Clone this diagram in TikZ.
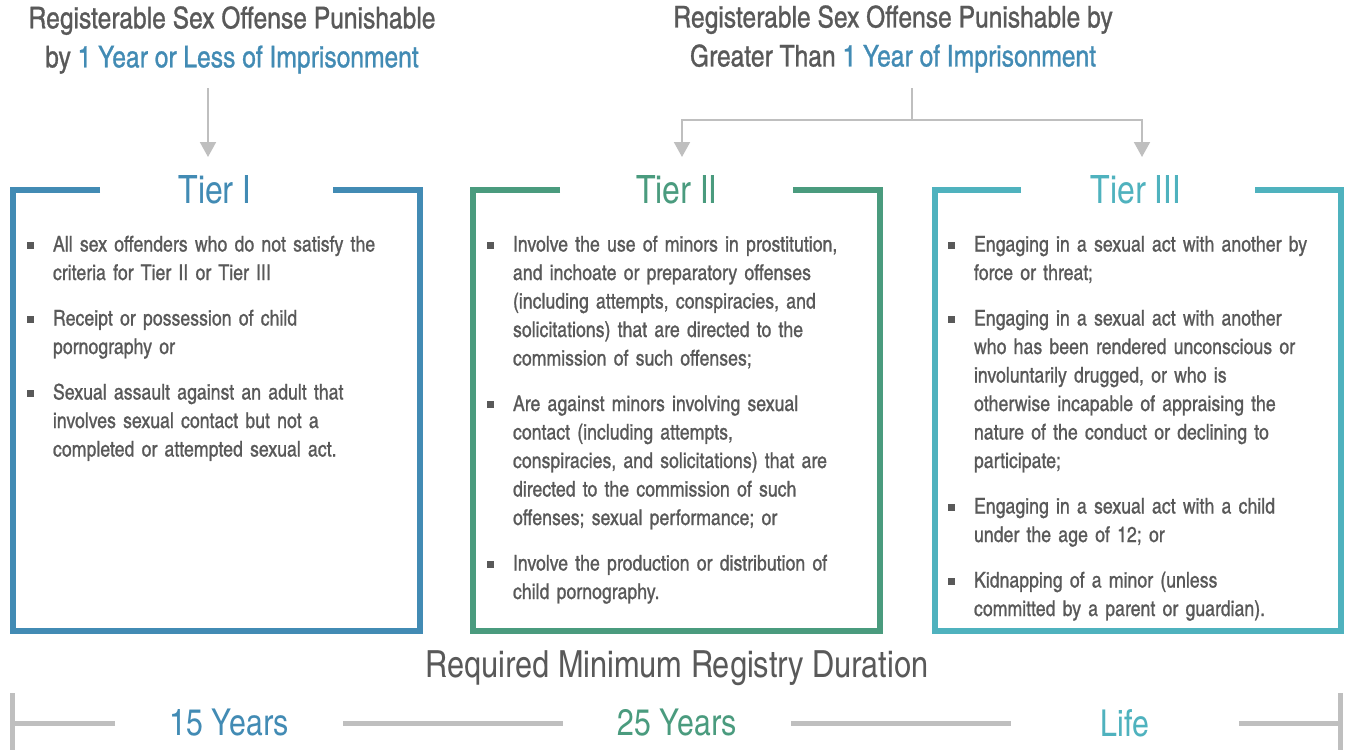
\documentclass[tikz,border=0pt]{standalone}
\usepackage{fontspec}
\setmainfont{TeX Gyre Heros Cn}
\newfontfamily\heavyfont[FakeBold=0.9]{TeX Gyre Heros Cn}
\usetikzlibrary{arrows.meta}

\definecolor{tierblue}{HTML}{428BB4}
\definecolor{tiergreen}{HTML}{4A9B7E}
\definecolor{tierteal}{HTML}{4FB2BE}
\definecolor{textgray}{HTML}{595959}
\definecolor{wiregray}{HTML}{BFBFBF}

% bullet list used inside the three tier boxes
\newenvironment{tierbullets}{%
  \begin{list}{\textcolor{textgray}{\rule[0.25ex]{3.4pt}{3.4pt}}}{%
    \setlength{\leftmargin}{13pt}\setlength{\labelwidth}{3.4pt}%
    \setlength{\labelsep}{9.6pt}\setlength{\itemsep}{8.5pt}%
    \setlength{\parsep}{0pt}\setlength{\topsep}{0pt}%
    \setlength{\partopsep}{0pt}}}{\end{list}}

\begin{document}
\begin{tikzpicture}[x=0.5pt,y=-0.5pt,
    every node/.style={inner sep=0pt,outer sep=0pt,text=textgray},
    header/.style={align=center,font=\heavyfont\fontsize{15}{19.5}\selectfont},
    tiertitle/.style={font=\fontsize{19.5}{24}\selectfont},
    tierframe/.style={line width=3pt},
    bullets/.style={anchor=north west,text width=184pt,
      font=\heavyfont\fontsize{10.8}{14.25}\selectfont},
    wire/.style={draw=wiregray,line width=1pt},
    flowarrow/.style={wire,-{Triangle[width=8pt,length=7.5pt]}},
    timebar/.style={draw=wiregray,line width=2.5pt},
    duration/.style={minimum width=114pt,font=\fontsize{18.5}{22}\selectfont}]
  \useasboundingbox (0,0) rectangle (1346,750);

  \def \ytop      {190}
  \def \ybot      {631}
  \def \ytitle    {190}
  \def \ylist     {223}
  \def \ytime     {723}

% headers
  \node [header] (hdrone) at (232,40)
    {Registerable Sex Offense Punishable\\
     by \textcolor{tierblue}{1 Year or Less of Imprisonment}};
  \node [header] (hdrtwo) at (893,39)
    {Registerable Sex Offense Punishable by\\
     Greater Than \textcolor{tierblue}{1 Year of Imprisonment}};

  \coordinate (hdronefoot) at (208,88);
  \coordinate (hdrtwofoot) at (912,88);
  \coordinate (splitpt)    at (912,120);
  \coordinate (tieronein)  at (208,157);
  \coordinate (tiertwoin)  at (682,157);
  \coordinate (tierthreein) at (1142,157);

  \draw [flowarrow] (hdronefoot) -- (tieronein);
  \draw [wire] (hdrtwofoot) -- (splitpt);
  \draw [flowarrow] (splitpt) -| (tiertwoin);
  \draw [flowarrow] (splitpt) -| (tierthreein);

% frames
  \draw [tierframe,tierblue]  (100,\ytop) -| (13,\ybot) -| (420,\ytop) -- (333,\ytop);
  \draw [tierframe,tiergreen] (560,\ytop) -| (473,\ybot) -| (880,\ytop) -- (793,\ytop);
  \draw [tierframe,tierteal]  (1021,\ytop) -| (935,\ybot) -| (1341,\ytop) -- (1255,\ytop);

  \node [tiertitle,text=tierblue]  (tierone)   at (215,\ytitle)  {Tier I};
  \node [tiertitle,text=tiergreen] (tiertwo)   at (677,\ytitle)  {Tier II};
  \node [tiertitle,text=tierteal]  (tierthree) at (1136,\ytitle) {Tier III};

% lists
  \node [bullets] (listone) at (27,\ylist) {%
    \begin{tierbullets}
      \item All sex offenders who do not satisfy the\\
            criteria for Tier II or Tier III
      \item Receipt or possession of child\\
            pornography or
      \item Sexual assault against an adult that\\
            involves sexual contact but not a\\
            completed or attempted sexual act.
    \end{tierbullets}};
  \node [bullets] (listtwo) at (487,\ylist) {%
    \begin{tierbullets}
      \item Involve the use of minors in prostitution,\\
            and inchoate or preparatory offenses\\
            (including attempts, conspiracies, and\\
            solicitations) that are directed to the\\
            commission of such offenses;
      \item Are against minors involving sexual\\
            contact (including attempts,\\
            conspiracies, and solicitations) that are\\
            directed to the commission of such\\
            offenses; sexual performance; or
      \item Involve the production or distribution of\\
            child pornography.
    \end{tierbullets}};
  \node [bullets] (listthree) at (948,\ylist) {%
    \begin{tierbullets}
      \item Engaging in a sexual act with another by\\
            force or threat;
      \item Engaging in a sexual act with another\\
            who has been rendered unconscious or\\
            involuntarily drugged, or who is\\
            otherwise incapable of appraising the\\
            nature of the conduct or declining to\\
            participate;
      \item Engaging in a sexual act with a child\\
            under the age of 12; or
      \item Kidnapping of a minor (unless\\
            committed by a parent or guardian).
    \end{tierbullets}};

% registry duration
  \node [font=\fontsize{18.7}{22}\selectfont] (durtitle) at (677,668)
    {Required Minimum Registry Duration};

  \coordinate (tlleft)  at (12,\ytime);
  \coordinate (tlright) at (1340,\ytime);
  \node [duration,text=tierblue]  (fifteen)    at (229,\ytime)  {15 Years};
  \node [duration,text=tiergreen] (twentyfive) at (677,\ytime)  {25 Years};
  \node [duration,text=tierteal]  (life)       at (1125,\ytime) {Life};

  \draw [timebar] (12,693) -- (12,750);
  \draw [timebar] (1340,693) -- (1340,750);
  \draw [timebar] (tlleft) -- (fifteen.west);
  \draw [timebar] (fifteen.east) -- (twentyfive.west);
  \draw [timebar] (twentyfive.east) -- (life.west);
  \draw [timebar] (life.east) -- (tlright);
\end{tikzpicture}
\end{document}
